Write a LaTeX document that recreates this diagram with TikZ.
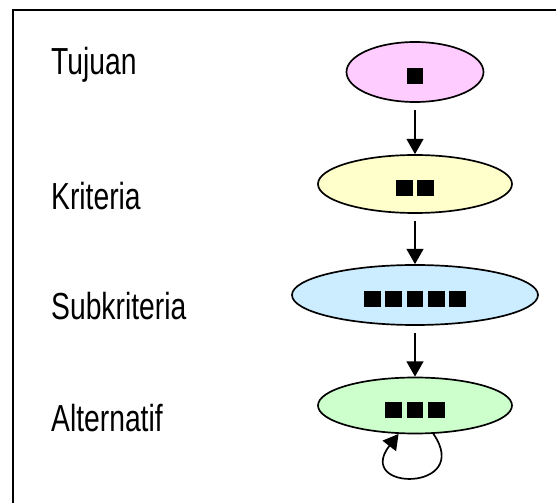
\documentclass[tikz,border=0pt]{standalone}
\usepackage{fontspec}
\setmainfont{Liberation Sans}
\usetikzlibrary{shapes.geometric,arrows.meta}

% n black squares side by side
\newcommand{\kotak}[1]{\foreach \k in {1,...,#1}{\ifnum\k>1 \hspace{1.1mm}\fi\rule[-3.1mm]{4.2mm}{4mm}}}

\definecolor{merahmuda}{RGB}{255,204,255}
\definecolor{kuning}{RGB}{255,255,204}
\definecolor{biru}{RGB}{204,236,255}
\definecolor{hijau}{RGB}{204,255,204}

\begin{document}
\begin{tikzpicture}[
  elips/.style={draw, ellipse, line width=1.2pt, inner sep=0pt, text height=4mm, text depth=4mm},
  tingkat/.style={anchor=base west, xscale=0.75, inner sep=0pt, font=\fontsize{26.8}{30}\selectfont},
  panah/.style={-{Triangle[length=3.8mm, width=4.2mm]}, line width=1.2pt, shorten <=5pt}]
\useasboundingbox (0,0) rectangle (13.9,12.575);
\draw[line width=1.5pt] (0.325,0) |- (13.9,12.325);
% levels on the left
\node[tingkat] (lTujuan) at (1.275,10.7) {Tujuan};
\node[tingkat] (lKriteria) at (1.275,7.325) {Kriteria};
\node[tingkat] (lSub) at (1.275,4.575) {Subkriteria};
\node[tingkat] (lAlt) at (1.275,1.775) {Alternatif};
% hierarchy
\node[elips, fill=merahmuda, minimum width=3.425cm, minimum height=1.5cm] (tujuan) at (10.375,10.775) {\kotak{1}};
\node[elips, fill=kuning, minimum width=4.85cm, minimum height=1.45cm] (kriteria) at (10.375,7.975) {\kotak{2}};
\node[elips, fill=biru, minimum width=6.15cm, minimum height=1.5cm] (sub) at (10.375,5.2) {\kotak{5}};
\node[elips, fill=hijau, minimum width=4.85cm, minimum height=1.4cm] (alt) at (10.375,2.4375) {\kotak{3}};
\draw[panah] (tujuan) -- (kriteria);
\draw[panah] (kriteria) -- (sub);
\draw[panah] (sub) -- (alt);
\draw[panah, shorten <=0pt] (alt.-57) .. controls +(1.0,-1.45) and +(-1.125,-1.45) .. (alt.-120);
\end{tikzpicture}
\end{document}
